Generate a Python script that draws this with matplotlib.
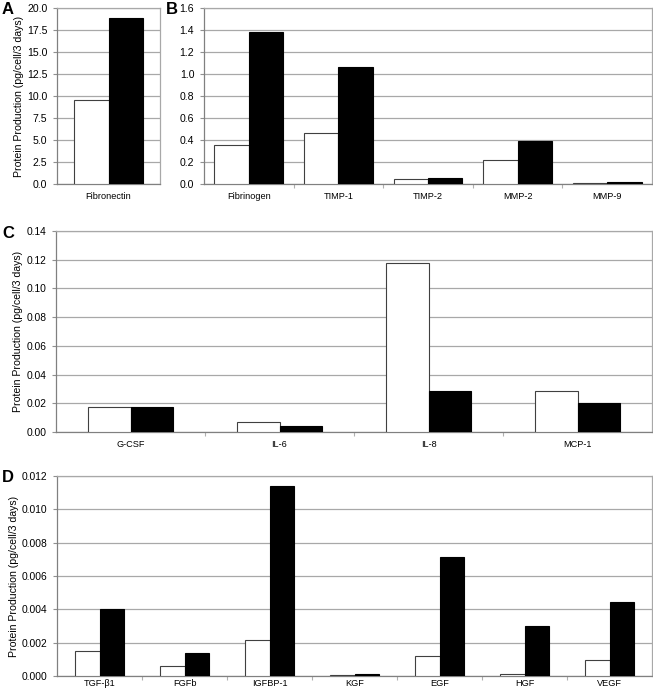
import matplotlib
matplotlib.use("Agg")
import matplotlib.pyplot as plt
import numpy as np

plt.rcParams['font.family'] = ['Liberation Sans', 'DejaVu Sans']

# panel A
a_labels = ["Fibronectin"]
a_white = [9.57]
a_black = [18.83]

# panel B
b_labels = ["Fibrinogen", "TIMP-1", "TIMP-2", "MMP-2", "MMP-9"]
b_white = [0.356, 0.465, 0.048, 0.217, 0.006]
b_black = [1.386, 1.063, 0.051, 0.395, 0.021]

# panel C
c_labels = ["G-CSF", "IL-6", "IL-8", "MCP-1"]
c_white = [0.0172, 0.0070, 0.1179, 0.0286]
c_black = [0.0177, 0.0040, 0.0288, 0.0202]

# panel D
d_labels = ["TGF-\u03b21", "FGFb", "IGFBP-1", "KGF", "EGF", "HGF", "VEGF"]
d_white = [0.00152, 0.00062, 0.00218, 0.00004, 0.00118, 0.00014, 0.00098]
d_black = [0.00400, 0.00138, 0.01138, 0.00014, 0.00712, 0.00302, 0.00444]

W, H = 653, 691
ylabel = "Protein Production (pg/cell/3 days)"

fig = plt.figure(figsize=(W / 100, H / 100), dpi=100)


def make_ax(left, right, top, bottom):
    return fig.add_axes([left / W, 1 - bottom / H, (right - left) / W, (bottom - top) / H])


def draw_panel(ax, labels, white, black, width, ymax, ystep, fmt, tick_fs=7.4, label_fs=6.6, xpad=6):
    n = len(labels)
    x = np.arange(n) + 0.5
    ax.bar(x - width / 2, white, width, color="white", edgecolor="#404040", linewidth=0.8, zorder=3)
    ax.bar(x + width / 2, black, width, color="black", edgecolor="black", linewidth=0.8, zorder=3)
    ax.set_xlim(0, n)
    ax.set_ylim(0, ymax)
    yt = np.arange(0, ymax + ystep / 2, ystep)
    ax.set_yticks(yt)
    ax.set_yticklabels([fmt.format(v) for v in yt], fontsize=tick_fs)
    ax.yaxis.grid(True, color="#a8a8a8", linewidth=0.9, zorder=0)
    ax.set_axisbelow(True)
    ax.set_xticks(x)
    ax.set_xticklabels(labels, fontsize=label_fs)
    ax.set_xticks(np.arange(1, n), minor=True)
    ax.tick_params(axis="x", which="major", length=0, pad=xpad)
    ax.tick_params(axis="x", which="minor", length=3, color="#b0b0b0", width=0.8)
    ax.tick_params(axis="y", length=3, color="#909090", width=0.8, pad=4)
    for s in ["top", "right"]:
        ax.spines[s].set_color("#a8a8a8")
        ax.spines[s].set_linewidth(0.9)
    for s in ["left", "bottom"]:
        ax.spines[s].set_color("#808080")
        ax.spines[s].set_linewidth(0.9)


axA = make_ax(57, 160, 8, 184)
draw_panel(axA, a_labels, a_white, a_black, 0.335, 20.0, 2.5, "{:.1f}", tick_fs=7.6)
axA.set_ylabel(ylabel, fontsize=7.6, labelpad=2)

axB = make_ax(204, 652, 8, 184)
draw_panel(axB, b_labels, b_white, b_black, 0.385, 1.6, 0.2, "{:.1f}", tick_fs=7.6)

axC = make_ax(56, 652, 231, 432)
draw_panel(axC, c_labels, c_white, c_black, 0.285, 0.14, 0.02, "{:.2f}")
axC.set_ylabel(ylabel, fontsize=7.6, labelpad=2)

axD = make_ax(57, 652, 476, 676)
draw_panel(axD, d_labels, d_white, d_black, 0.294, 0.012, 0.002, "{:.3f}", xpad=2)
axD.set_ylabel(ylabel, fontsize=7.6, labelpad=2)

for letter, px, py in [("A", 2, 10), ("B", 166, 10), ("C", 2, 233), ("D", 2, 478)]:
    fig.text(px / W, 1 - py / H, letter, fontsize=12, fontweight="bold", ha="left", va="center")

fig.savefig("out.png", dpi=100)
